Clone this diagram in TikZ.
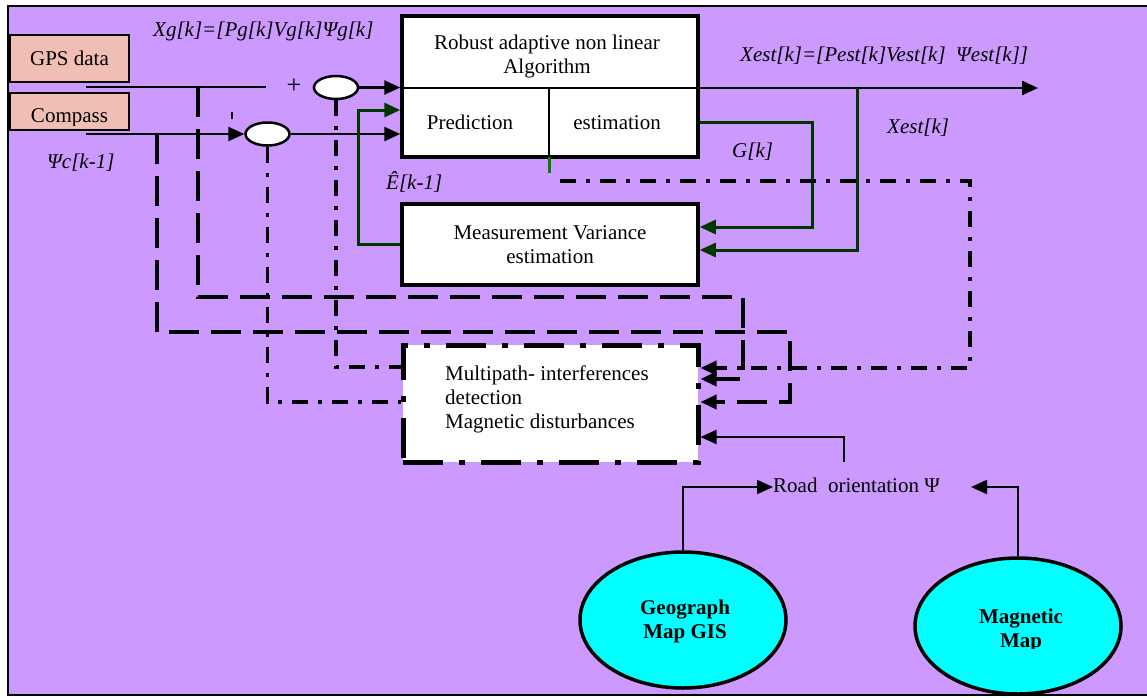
\documentclass[tikz,border=0pt]{standalone}
\usepackage{fontspec}
\setmainfont{Liberation Serif}
\usetikzlibrary{arrows.meta,shapes.geometric,calc}
\definecolor{bgpurple}{RGB}{204,153,255}
\definecolor{pinkbox}{RGB}{240,190,180}
\definecolor{dkgreen}{RGB}{0,55,0}
\definecolor{brgreen}{RGB}{0,128,0}
\definecolor{mapcyan}{RGB}{0,255,255}
\begin{document}
\begin{tikzpicture}[x=1pt,y=-1pt,
  font=\fontsize{21}{24}\selectfont,
  srcbox/.style={draw,line width=2.5pt,fill=pinkbox,inner sep=0pt,minimum width=119pt},
  mainbox/.style={draw,line width=3.5pt,fill=white,inner sep=0pt,minimum width=296pt},
  detbox/.style={draw,line width=5pt,fill=white,inner sep=0pt,minimum width=295pt,minimum height=117pt,
    dash pattern=on 40pt off 16pt on 6pt off 16pt},
  sumnode/.style={ellipse,draw,line width=2.5pt,fill=white,inner sep=0pt,minimum width=44pt,minimum height=23pt},
  mapnode/.style={ellipse,draw,line width=3.5pt,fill=mapcyan,inner sep=0pt,minimum width=206pt,minimum height=136pt},
  txt/.style={inner sep=0pt,anchor=base},
  txtw/.style={inner sep=0pt,anchor=base west},
  lbl/.style={inner sep=0pt,anchor=base west,font=\itshape\fontsize{21}{24}\selectfont},
  bold/.style={inner sep=0pt,anchor=base,font=\bfseries\fontsize{21}{24}\selectfont},
  tip/.style={-{Triangle[length=16pt,width=14pt]}},
  sigline/.style={line width=2.5pt},
  thinline/.style={line width=2pt},
  dashln/.style={line width=3.5pt,dash pattern=on 30pt off 12pt},
  dotln/.style={line width=3.5pt,dash pattern=on 16pt off 10pt on 4pt off 10pt},
  fbline/.style={line width=3pt,draw=dkgreen,-{Triangle[length=16pt,width=14pt]}}
]
\useasboundingbox (0,0) rectangle (1147,697);
\fill[white] (0,0) rectangle (1147,697);
\draw[fill=bgpurple,line width=2pt] (8,6) rectangle (1153,695);

% ---------------- nodes ----------------
\node[srcbox,minimum height=47pt] (gps) at (69.5,58.5) {};
\node[txt] (gpstext) at (69.5,65) {GPS data};
\node[srcbox,minimum height=37pt] (comp) at (69.5,111.5) {};
\begin{scope}
\clip (10,93) rectangle (129,125);
\node[txt] (comptext) at (69.5,122) {Compass};
\end{scope}

\node[sumnode] (sum1) at (336,87.5) {};
\node[sumnode] (sum2) at (267.5,134) {};
\node[txt,font=\fontsize{26}{28}\selectfont] (plus) at (294,93) {+};
\draw[line width=1.5pt] (232,112) -- (232,119);

\node[mainbox,minimum height=141pt] (alg) at (550,86.5) {};
\node[txt] (algt1) at (547,49) {Robust adaptive non linear};
\node[txt] (algt2) at (547,73) {Algorithm};
\node[txt] (pred) at (470,129) {Prediction};
\node[txt] (estim) at (617,129) {estimation};
\draw[thinline] (alg.west |- 0,88) -- (alg.east |- 0,88);
\draw[thinline] (549,88) -- (549,157);

\node[mainbox,minimum height=81pt] (meas) at (550,244.5) {};
\node[txt] (meast1) at (550,239) {Measurement Variance};
\node[txt] (meast2) at (550,263) {estimation};

\node[detbox] (multi) at (550.5,403.5) {};
\node[txtw] (mt1) at (445,380) {Multipath- interferences};
\node[txtw] (mt2) at (445,404) {detection};
\node[txtw] (mt3) at (445,428) {Magnetic disturbances};

\node[txtw] (road) at (773,492) {Road\ \ orientation \textup{Ψ}};

\node[mapnode] (geo) at (683,620) {};
\node[bold] (geot1) at (685,614) {Geograph};
\node[bold] (geot2) at (685,638) {Map GIS};
\node[mapnode] (mag) at (1018,626) {};
\node[bold] (magt1) at (1021,623) {Magnetic};
\begin{scope}
\clip (900,600) rectangle (1140,648);
\node[bold] (magt2) at (1021,647) {Map};
\end{scope}

% labels
\node[lbl] (xglbl) at (153,36) {Xg[k]=[Pg[k]Vg[k]Ψg[k]};
\node[lbl] (psilbl) at (47,168) {Ψc[k-1]};
\node[lbl] (xestlbl) at (740,61) {Xest[k]=[Pest[k]Vest[k] \ Ψest[k]]};
\node[lbl] (gklbl) at (732,157) {G[k]};
\node[lbl] (xestk) at (887,133) {Xest[k]};
\node[lbl] (elbl) at (386,189) {\^{E}[k-1]};

% coordinates
\coordinate (gpsout) at (86,87);
\coordinate (gpsend) at (266,87);
\coordinate (compout) at (86,134);
\coordinate (outend) at (1038,88);
\coordinate (ddstart) at (560,181);
\coordinate (roadtop) at (844,462);

% ---------------- connectors ----------------
\draw[sigline] (gpsout) -- (gpsend);
\draw[sigline,tip] (sum1.east) -- (alg.west |- sum1.east);
\draw[sigline,tip] (compout) -- (sum2.west);
\draw[sigline,tip] (sum2.east) -- (alg.west |- sum2.east);
\draw[sigline,tip] (alg.east |- outend) -- (outend);

% green feedback
\draw[fbline] (meas.west) -- (358,244.5) -- (358,110) -- (alg.west |- 0,110);
\draw[fbline] (alg.east |- 0,122) -- (812,122) -- (812,227) -- (meas.east |- 0,227);
\draw[fbline] (857,88) -- (857,250) -- (meas.east |- 0,250);
\draw[line width=3pt,draw=brgreen] (549,157) -- (549,173);

% dash-dot
\draw[dotln,tip] (ddstart) -- (970,181) -- (970,368) -- (multi.east |- 0,368);
\draw[dotln] (sum1.south) -- (336,367) -- (multi.west |- 0,367);
\draw[dotln] (sum2.south) -- (267.5,402) -- (multi.west |- 0,402);

% dashed
\draw[dashln,tip] (198,87) -- (198,297) -- (743,297) -- (743,379) -- (multi.east |- 0,379);
\draw[dashln,tip] (157,134) -- (157,332) -- (790,332) -- (790,402) -- (multi.east |- 0,402);

% road orientation
\draw[thinline,tip] (roadtop) -- (844,437) -- (multi.east |- 0,437);
\draw[thinline,tip] (geo.north) -- (683,487) -- (road.west |- 0,487);
\draw[thinline,tip] (mag.north) -- (1018,487) -- (971,487);
\end{tikzpicture}
\end{document}
